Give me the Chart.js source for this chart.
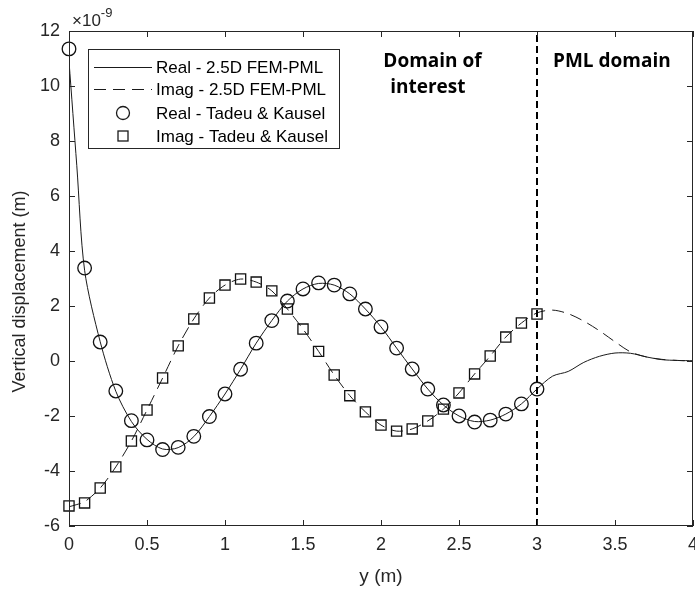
<!DOCTYPE html>
<html>
<head>
<meta charset="utf-8">
<script src="https://cdn.jsdelivr.net/npm/chart.js@4.4.1/dist/chart.umd.min.js"></script>
<style>
  html, body { margin: 0; padding: 0; background: #fff; }
</style>
</head>
<body>
<canvas id="chart" width="695" height="590"></canvas>
<script>
"use strict";

// Tadeu & Kausel reference values, every 0.1 m (x1e-9 m)
var tkX = [0, 0.1, 0.2, 0.3, 0.4, 0.5, 0.6, 0.7, 0.8, 0.9, 1.0,
  1.1, 1.2, 1.3, 1.4, 1.5, 1.6, 1.7, 1.8, 1.9, 2.0,
  2.1, 2.2, 2.3, 2.4, 2.5, 2.6, 2.7, 2.8, 2.9, 3.0];
var tkReal = [11.35, 3.38, 0.69, -1.09, -2.17, -2.87, -3.22, -3.14, -2.74, -2.02, -1.2,
  -0.3, 0.65, 1.47, 2.18, 2.62, 2.84, 2.76, 2.44, 1.89, 1.24,
  0.47, -0.29, -1.02, -1.6, -2.0, -2.22, -2.15, -1.93, -1.56, -1.02];
var tkImag = [-5.27, -5.16, -4.62, -3.85, -2.91, -1.78, -0.62, 0.55, 1.53, 2.29, 2.76,
  2.98, 2.87, 2.55, 1.89, 1.16, 0.35, -0.51, -1.26, -1.85, -2.33,
  -2.55, -2.47, -2.18, -1.75, -1.16, -0.47, 0.18, 0.87, 1.38, 1.71];

// 2.5D FEM-PML curves (continue into the PML zone)
var femX = [0, 0.05, 0.1, 0.2, 0.3, 0.4, 0.5, 0.6, 0.7, 0.8, 0.9, 1.0,
  1.1, 1.2, 1.3, 1.4, 1.5, 1.6, 1.7, 1.8, 1.9, 2.0,
  2.1, 2.2, 2.3, 2.4, 2.5, 2.6, 2.7, 2.8, 2.9, 3.0,
  3.1, 3.2, 3.3, 3.4, 3.5, 3.6, 3.7, 3.8, 3.9, 4.0];
var femReal = [10.9, 7.1, 3.3, 0.7, -1.1, -2.2, -2.85, -3.2, -3.15, -2.75, -2.02, -1.2,
  -0.3, 0.65, 1.47, 2.18, 2.62, 2.82, 2.76, 2.44, 1.89, 1.24,
  0.47, -0.29, -1.02, -1.6, -2.0, -2.2, -2.15, -1.93, -1.56, -1.02,
  -0.55, -0.38, -0.05, 0.17, 0.29, 0.28, 0.15, 0.05, 0.02, 0.01];
var femImag = [-5.3, -5.22, -5.12, -4.62, -3.85, -2.91, -1.78, -0.62, 0.55, 1.53, 2.29, 2.76,
  2.98, 2.87, 2.55, 1.89, 1.16, 0.35, -0.51, -1.26, -1.85, -2.33,
  -2.55, -2.47, -2.18, -1.75, -1.16, -0.47, 0.18, 0.87, 1.38, 1.75,
  1.85, 1.72, 1.45, 1.1, 0.7, 0.33, 0.15, 0.06, 0.02, 0.0];

// boundary between domain of interest and PML
var pmlStart = 3;

var xTicks = [0, 0.5, 1, 1.5, 2, 2.5, 3, 3.5, 4];
var yTicks = [-6, -4, -2, 0, 2, 4, 6, 8, 10, 12];

var legendLabels = ["Real - 2.5D FEM-PML", "Imag - 2.5D FEM-PML",
  "Real - Tadeu & Kausel", "Imag - Tadeu & Kausel"];

var FONT = '"Liberation Sans", Arial, sans-serif';
var AXIS = '#262626';

function pts(xs, ys) {
  return xs.map(function(x, i) { return { x: x, y: ys[i] }; });
}

// box, inward ticks, y title, exponent, region labels and legend
var extras = {
  id: 'extras',
  afterDraw: function(chart) {
    var ctx = chart.ctx, a = chart.chartArea;
    var sx = chart.scales.x, sy = chart.scales.y;
    ctx.save();
    ctx.strokeStyle = AXIS;
    ctx.lineWidth = 1;
    ctx.setLineDash([]);
    ctx.strokeRect(a.left + 0.5, a.top + 0.5, a.right - a.left - 1, a.bottom - a.top - 1);

    ctx.beginPath();
    xTicks.forEach(function(v) {
      var px = Math.round(sx.getPixelForValue(v)) + 0.5;
      ctx.moveTo(px, a.bottom); ctx.lineTo(px, a.bottom - 6);
      ctx.moveTo(px, a.top); ctx.lineTo(px, a.top + 6);
    });
    yTicks.forEach(function(v) {
      var py = Math.round(sy.getPixelForValue(v)) + 0.5;
      ctx.moveTo(a.left, py); ctx.lineTo(a.left + 6, py);
      ctx.moveTo(a.right, py); ctx.lineTo(a.right - 6, py);
    });
    ctx.stroke();

    // y axis title, sits a bit below the middle like the original
    ctx.save();
    ctx.translate(20, (a.top + a.bottom) / 2 + 13);
    ctx.rotate(-Math.PI / 2);
    ctx.fillStyle = AXIS;
    ctx.textAlign = 'center';
    ctx.textBaseline = 'middle';
    ctx.font = '18px ' + FONT;
    ctx.fillText('Vertical displacement (m)', 0, 0);
    ctx.restore();

    // x10^-9
    ctx.fillStyle = AXIS;
    ctx.textAlign = 'left';
    ctx.textBaseline = 'alphabetic';
    ctx.font = '17px ' + FONT;
    ctx.fillText('\u00d710', a.left + 3, a.top - 5);
    var w = ctx.measureText('\u00d710').width;
    ctx.font = '13px ' + FONT;
    ctx.fillText('-9', a.left + 3 + w, a.top - 14);

    // region labels
    ctx.fillStyle = '#000';
    ctx.textAlign = 'center';
    ctx.textBaseline = 'middle';
    ctx.font = 'bold 19px "Open Sans", sans-serif';
    ctx.fillText('Domain of', sx.getPixelForValue(2.33), sy.getPixelForValue(10.9));
    ctx.fillText('interest', sx.getPixelForValue(2.3), sy.getPixelForValue(9.93));
    ctx.fillText('PML domain', sx.getPixelForValue(3.48), sy.getPixelForValue(10.9));

    // legend
    var lx = a.left + 19, ly = a.top + 18, lw = 251, lh = 99;
    ctx.fillStyle = '#fff';
    ctx.fillRect(lx, ly, lw, lh);
    ctx.strokeStyle = AXIS;
    ctx.strokeRect(lx + 0.5, ly + 0.5, lw, lh);
    var rows = [ly + 18, ly + 40, ly + 64, ly + 87];
    ctx.font = '17px ' + FONT;
    ctx.textAlign = 'left';
    ctx.textBaseline = 'middle';
    rows.forEach(function(ry, i) {
      ctx.strokeStyle = '#1a1a1a';
      ctx.lineWidth = 1;
      if (i < 2) {
        ctx.setLineDash(i === 1 ? [12, 7] : []);
        ctx.beginPath();
        ctx.moveTo(lx + 6, ry + 0.5);
        ctx.lineTo(lx + 64, ry + 0.5);
        ctx.stroke();
        ctx.setLineDash([]);
      } else if (i === 2) {
        ctx.lineWidth = 1.3;
        ctx.beginPath();
        ctx.arc(lx + 35, ry, 6.5, 0, Math.PI * 2);
        ctx.stroke();
      } else {
        ctx.lineWidth = 1.3;
        ctx.strokeRect(lx + 30, ry - 5, 10, 10);
      }
      ctx.fillStyle = '#000';
      ctx.fillText(legendLabels[i], lx + 68, ry + 1);
    });
    ctx.restore();
  }
};

new Chart(document.getElementById('chart'), {
  type: 'scatter',
  data: {
    datasets: [
      {
        label: legendLabels[0],
        data: pts(femX, femReal),
        showLine: true,
        borderColor: '#1a1a1a',
        borderWidth: 1,
        tension: 0.3,
        pointRadius: 0,
        order: 3
      },
      {
        label: legendLabels[1],
        data: pts(femX, femImag),
        showLine: true,
        borderColor: '#1a1a1a',
        borderWidth: 1,
        borderDash: [12, 7],
        tension: 0.3,
        pointRadius: 0,
        order: 3
      },
      {
        label: legendLabels[2],
        data: pts(tkX, tkReal),
        showLine: false,
        pointStyle: 'circle',
        pointRadius: 6.8,
        pointBorderWidth: 1.3,
        borderColor: '#111',
        backgroundColor: 'transparent',
        clip: false,
        order: 1
      },
      {
        label: legendLabels[3],
        data: pts(tkX, tkImag),
        showLine: false,
        pointStyle: 'rect',
        pointRadius: 7.2,
        pointBorderWidth: 1.3,
        borderColor: '#111',
        backgroundColor: 'transparent',
        clip: false,
        order: 1
      },
      {
        label: 'PML boundary',
        data: [{ x: pmlStart, y: yTicks[0] }, { x: pmlStart, y: yTicks[yTicks.length - 1] }],
        showLine: true,
        borderColor: '#000',
        borderWidth: 2,
        borderDash: [7, 4],
        pointRadius: 0,
        order: 2
      }
    ]
  },
  options: {
    responsive: false,
    animation: false,
    devicePixelRatio: 1,
    layout: { autoPadding: false, padding: { top: 31, right: 2, left: 0, bottom: 0 } },
    plugins: {
      legend: { display: false },
      tooltip: { enabled: false }
    },
    scales: {
      x: {
        type: 'linear',
        min: 0,
        max: 4,
        afterBuildTicks: function(s) { s.ticks = xTicks.map(function(v) { return { value: v }; }); },
        afterFit: function(s) { s.height = 64; s.paddingLeft = 0; s.paddingRight = 0; },
        grid: { display: false, drawTicks: false },
        border: { display: false },
        ticks: {
          color: AXIS, font: { family: FONT, size: 18 }, padding: 8, maxRotation: 0, autoSkip: false,
          callback: function(v) { return String(v); }
        },
        title: { display: true, text: 'y (m)', color: AXIS, font: { family: FONT, size: 19 }, padding: { top: 0, bottom: 2 } }
      },
      y: {
        type: 'linear',
        min: -6,
        max: 12,
        afterBuildTicks: function(s) { s.ticks = yTicks.map(function(v) { return { value: v }; }); },
        afterFit: function(s) { s.width = 69; s.paddingTop = 0; s.paddingBottom = 0; },
        grid: { display: false, drawTicks: false },
        border: { display: false },
        ticks: { color: AXIS, font: { family: FONT, size: 18 }, padding: 9, autoSkip: false },
        title: { display: false }
      }
    }
  },
  plugins: [extras]
});
</script>
</body>
</html>
